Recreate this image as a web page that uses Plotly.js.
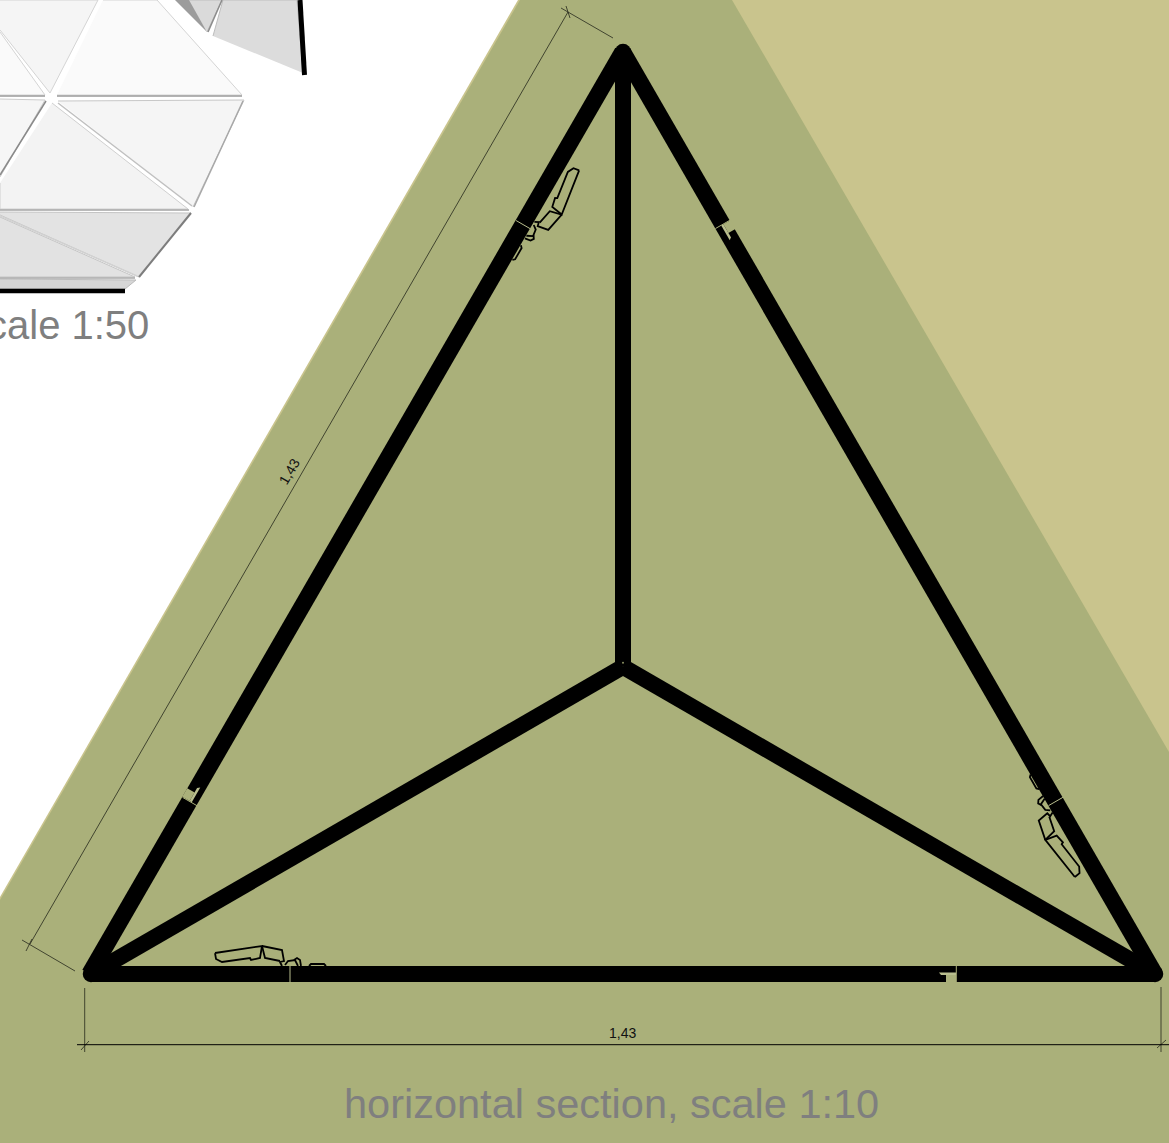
<!DOCTYPE html>
<html>
<head>
<meta charset="utf-8">
<script src="https://cdn.plot.ly/plotly-3.0.1.min.js"></script>
<style>html,body{margin:0;padding:0;background:#fff;overflow:hidden}#c{width:1169px;height:1143px}</style>
</head>
<body>
<div id="c"></div>
<script>
// colours
const olive = '#AAB07A', tan = '#C9C48D', ink = '#000000', thin = '#26281c', slit = '#B9BE8E', label = '#7F7F7F';

// ground planes
const tanEdge = [[518,0],[530,0],[3,912],[0,912],[0,897]];
const oliveGround = [[520,0],[1169,0],[1169,1143],[0,1143],[0,900]];
const tanGround = [[732,0],[1169,0],[1169,752]];

// small-scale model faces (polygon, fill, edge)
const faceA = [[103,0],[157,0],[242,95],[57,95]];
const faceB = [[0,0],[98,0],[50,93],[0,30]];
const faceC = [[0,32],[45,95],[0,95]];
const faceD = [[0,99],[45,100],[0,177]];
const faceE = [[58,101],[244,100],[193,207]];
const faceF = [[52,103],[188,209],[0,209],[0,183]];
const faceG = [[0,212],[191,213],[139,277],[0,215]];
const faceH = [[0,217],[135,277],[0,277]];
const faceI = [[0,279],[136,280],[125,289],[0,289]];
const pieceJ = [[213,36],[223,0],[297,0],[303,73]];
const pieceK = [[188,0],[222,0],[207,32]];
const pieceKDark = [[175,0],[189,0],[207,32]];
const modelBlackA = [[0,291],[125,291]];
const modelBlackB = [[300,0],[304.5,75]];
const modelEdges = [
  [[57,96],[242,96]], [[0,96],[45,96]], [[58,103],[192,206]], [[0,210],[189,210]],
  [[191,213],[139,277]], [[243,101],[194,207]], [[0,278],[135,278]], [[0,216],[137,276]],
  [[222,0],[208,32]], [[46,101],[0,175]]
];

// main section: corner points and hub
const cornerL = [91,974], cornerR = [1155,974], apex = [623,52], hub = [623,666.8];
const sideBase = [cornerL, cornerR], sideLeft = [[89.5,974],[622.5,52]], sideRight = [cornerR, apex];
const spokeA = [hub, apex], spokeB = [hub, cornerL], spokeC = [hub, cornerR];

// hinge detail as read on the bottom edge; repeated on the other two edges
const hingeLeaf = [[215,953],[216,959],[222,962],[250,958],[251,960],[260,958],[262,946],[215,953]];
const hingeArm = [[262,946],[282,950],[284,961],[280,962],[282,966]];
const hingeRib = [[262,946],[265,958],[280,961]];
const hingeLoopA = [[285,965],[288,961],[295,960],[298,966]];
const hingeLoopB = [[294,960],[297,958],[300,960],[301,966]];
const hingePad = [[309,966],[311,964],[324,964],[326,966]];
const jointLine = [[290,966],[290,982.5]];
const notchCut = [[946,975],[956,975],[956,983.5],[946,983.5]];
const notchSlit = [[939,972.5],[956,972.5],[956,975],[941,975]];
const notchJoint = [[956.3,966],[956.3,983]];

// dimension lines
const dimSlant = [[30,944],[568,12]];
const dimSlantExtTop = [[561,8],[613,38]];
const dimSlantExtBottom = [[22,940],[75,971]];
const dimSlantTickTop = [[566,6],[570,18]];
const dimSlantTickBottom = [[26,951],[32,939]];
const dimBase = [[77,1044.7],[1169,1044.7]];
const dimBaseExtL = [[84.7,988],[84.7,1052]];
const dimBaseExtR = [[1161,987],[1161,1052]];
const dimBaseTickL = [[81,1050],[89,1041]];
const dimBaseTickR = [[1157,1048],[1166,1040]];

// labels
const dimText = '1,43';
const sectionTitle = 'horizontal section, scale 1:10';
const modelTitle = 'scale 1:50';

const xs = p => p.map(q => q[0]), ys = p => p.map(q => q[1]);
const traces = [];
function fillPoly(p, color, edge, w) {
  traces.push({type:'scatter', mode:'lines', x:xs(p), y:ys(p), fill:'toself', fillcolor:color,
    line:{color:edge || color, width:edge ? (w||1) : 0}, hoverinfo:'skip', showlegend:false});
}
function stroke(p, color, w) {
  traces.push({type:'scatter', mode:'lines', x:xs(p), y:ys(p), line:{color:color, width:w}, hoverinfo:'skip', showlegend:false});
}
// k steps of 120 degrees clockwise round the hub
function turn(p, k) {
  const a = k * 2 * Math.PI / 3, c = Math.cos(a), s = Math.sin(a);
  return p.map(q => {
    const dx = q[0] - hub[0], dy = q[1] - hub[1];
    return [hub[0] + dx * c - dy * s, hub[1] + dx * s + dy * c];
  });
}

fillPoly(tanEdge, tan);
fillPoly(oliveGround, olive);
fillPoly(tanGround, tan);

fillPoly(faceA, '#FAFAFA', '#D4D4D4', 1);
fillPoly(faceB, '#F5F5F5', '#D4D4D4', 1);
fillPoly(faceC, '#FAFAFA', '#D4D4D4', 1);
fillPoly(faceD, '#F6F6F6', '#CCCCCC', 1);
fillPoly(faceE, '#F5F5F5', '#C8C8C8', 1);
fillPoly(faceF, '#F3F3F3', '#D0D0D0', 1);
fillPoly(faceG, '#E3E3E3', '#C4C4C4', 1);
fillPoly(faceH, '#E2E2E2', '#C4C4C4', 1);
fillPoly(faceI, '#D6D6D6', '#BBBBBB', 1);
fillPoly(pieceJ, '#DCDCDC', '#BDBDBD', 1);
fillPoly(pieceK, '#DADADA', '#BDBDBD', 1);
fillPoly(pieceKDark, '#9C9C9C');
stroke(modelEdges[0], '#9A9A9A', 1.5);
stroke(modelEdges[1], '#9A9A9A', 1.5);
stroke(modelEdges[2], '#C0C0C0', 1.5);
stroke(modelEdges[3], '#A4A4A4', 1.5);
stroke(modelEdges[4], '#7D7D7D', 2);
stroke(modelEdges[5], '#A8A8A8', 1.5);
stroke(modelEdges[6], '#A8A8A8', 1.5);
stroke(modelEdges[7], '#D2D2D2', 1.5);
stroke(modelEdges[8], '#8C8C8C', 1.5);
stroke(modelEdges[9], '#8A8A8A', 1.5);
stroke(modelBlackA, ink, 4.5);
stroke(modelBlackB, ink, 5);

stroke(spokeA, ink, 16);
stroke(spokeB, ink, 16);
stroke(spokeC, ink, 16);
stroke(sideBase, ink, 16);
stroke(sideLeft, ink, 16.5);
stroke(sideRight, ink, 16.5);
traces.push({type:'scatter', mode:'markers', x:xs([cornerL, cornerR, apex]), y:ys([cornerL, cornerR, apex]),
  marker:{color:ink, size:16.5, line:{width:0}}, hoverinfo:'skip', showlegend:false});
traces.push({type:'scatter', mode:'markers', x:[hub[0]], y:[662.7],
  marker:{color:'#8b9062', size:2, line:{width:0}}, hoverinfo:'skip', showlegend:false});

[0,1,2].forEach(k => {
  [hingeLeaf, hingeArm, hingeRib, hingeLoopA, hingeLoopB, hingePad].forEach(p => stroke(turn(p,k), ink, 1.8));
  stroke(turn(jointLine,k), slit, 1);
  fillPoly(turn(notchCut,k), olive);
  fillPoly(turn(notchSlit,k), slit);
  stroke(turn(notchJoint,k), olive, 1);
});

[dimSlant, dimSlantExtTop, dimSlantExtBottom, dimSlantTickTop, dimSlantTickBottom,
 dimBaseExtL, dimBaseExtR, dimBaseTickL, dimBaseTickR].forEach(p => stroke(p, thin, 0.8));
stroke(dimBase, ink, 1);

const layout = {
  width:1169, height:1143, margin:{l:0,r:0,t:0,b:0}, paper_bgcolor:'#fff', plot_bgcolor:'#fff', showlegend:false,
  xaxis:{range:[0,1169], visible:false, fixedrange:true},
  yaxis:{range:[1143,0], visible:false, fixedrange:true},
  annotations:[
    {text:sectionTitle, x:611, y:1103, xref:'x', yref:'y', showarrow:false, xanchor:'center', yanchor:'middle',
     font:{family:'Liberation Sans, Arial, sans-serif', size:41.5, color:label}},
    {text:modelTitle, x:151, y:325, xref:'x', yref:'y', showarrow:false, xanchor:'right', yanchor:'middle',
     font:{family:'Liberation Sans, Arial, sans-serif', size:40, color:label}},
    {text:dimText, x:289, y:472, xref:'x', yref:'y', showarrow:false, textangle:-60,
     font:{family:'Liberation Sans, Arial, sans-serif', size:14, color:'#111'}},
    {text:dimText, x:622, y:1033, xref:'x', yref:'y', showarrow:false,
     font:{family:'Liberation Sans, Arial, sans-serif', size:14, color:'#111'}}
  ]
};
Plotly.newPlot('c', traces, layout, {staticPlot:true, displayModeBar:false});
</script>
</body>
</html>
